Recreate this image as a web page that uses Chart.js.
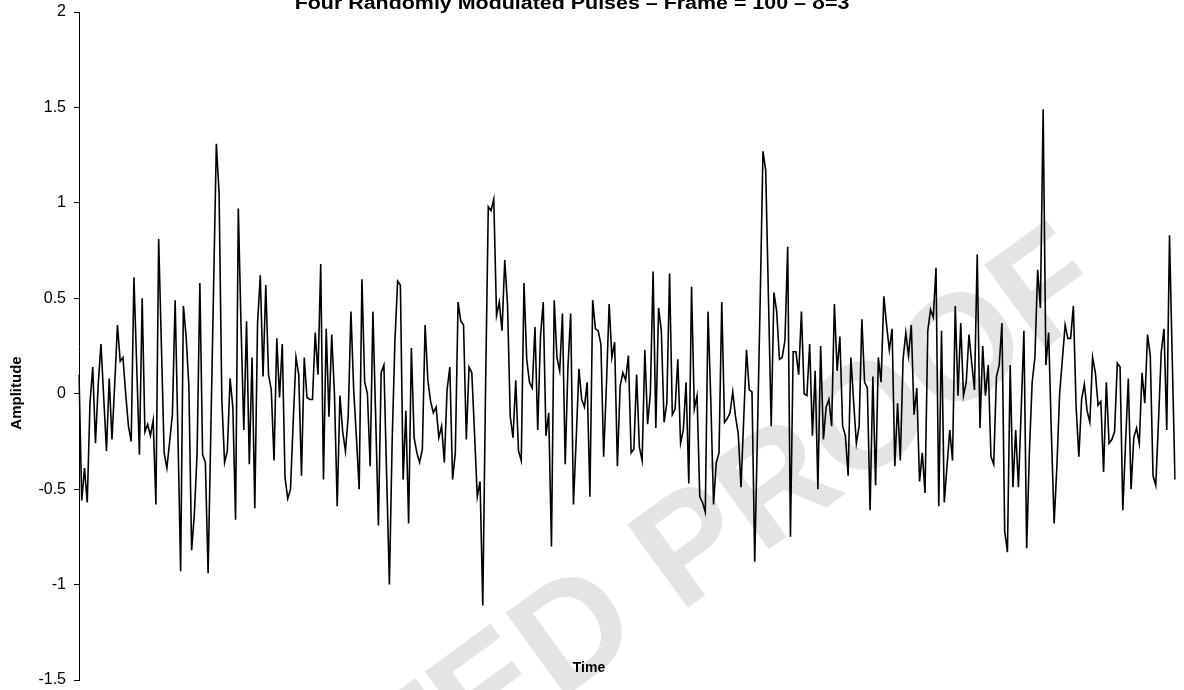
<!DOCTYPE html>
<html><head><meta charset="utf-8">
<script src="https://cdn.jsdelivr.net/npm/chart.js@4"></script>
<style>html,body{margin:0;padding:0;background:#fff;overflow:hidden}#wrap{position:relative;width:1184px;height:690px}</style>
</head><body><div id="wrap"><canvas id="c" width="1184" height="690"></canvas></div>
<script>
const titleText = 'Four Randomly Modulated Pulses – Frame = 100 – δ=3';
const xTitle = 'Time';
const yTitle = 'Amplitude';
const watermark = 'CORRECTED PROOF';
const yTicks = [-1.5, -1, -0.5, 0, 0.5, 1, 1.5, 2];

const pulse1 = [
 0.10,-0.56,-0.39,-0.57,-0.05,0.14,-0.26,0.05,0.26,-0.02,
 -0.30,0.08,-0.24,0.05,0.36,0.17,0.19,0.00,-0.17,-0.25,
 0.61,0.15,-0.32,0.50,-0.20,-0.16,-0.22,-0.14,-0.58,0.81,
 0.25,-0.31,-0.39,-0.25,-0.11,0.49,-0.20,-0.93,0.46,0.30,
 0.04,-0.82,-0.63,-0.31,0.58,-0.32,-0.36,-0.94,-0.19,0.56,
 1.31,1.05,-0.03,-0.36,-0.30,0.08,-0.07,-0.66,0.97,0.35,
 -0.19,0.38,-0.37,0.19,-0.60,0.37,0.62,0.09,0.57,0.10,
 0.02,-0.35,0.29,-0.02,0.26,-0.44,-0.55,-0.50,-0.14,0.19,
 0.10,-0.43,0.19,-0.02,-0.03,-0.03,0.32,0.10,0.68,-0.45,
 0.34,-0.12,0.31,0.00,-0.59,-0.01,-0.20,-0.30,-0.12,0.43
];
const pulse2 = [
 0.02,-0.23,-0.50,0.60,0.06,0.00,-0.38,0.43,-0.12,-0.69,
 0.11,0.15,-0.43,-1.00,-0.25,0.27,0.59,0.57,-0.45,-0.09,
 -0.68,0.24,-0.23,-0.31,-0.36,-0.29,0.36,0.07,-0.04,-0.10,
 -0.07,-0.23,-0.17,-0.36,0.02,0.14,-0.45,-0.31,0.48,0.38,
 0.36,-0.24,0.14,0.11,-0.21,-0.54,-0.46,-1.11,0.02,0.98,
 0.96,1.02,0.41,0.48,0.33,0.70,0.47,-0.12,-0.23,0.07,
 -0.30,-0.35,0.58,0.18,0.06,0.03,0.35,-0.19,0.30,0.48,
 -0.22,-0.10,-0.80,0.49,0.19,0.12,0.42,-0.37,0.14,0.42,
 -0.58,-0.24,0.13,-0.03,-0.07,0.06,-0.54,0.49,0.34,0.33,
 0.26,-0.33,0.04,0.47,0.19,0.27,-0.38,0.04,0.11,0.07
];
const pulse3 = [
 0.20,-0.31,-0.29,0.10,-0.28,-0.35,0.23,-0.16,0.00,0.64,
 -0.18,0.45,0.33,-0.15,-0.05,0.63,-0.11,-0.08,0.18,-0.26,
 -0.19,0.06,-0.47,0.56,-0.08,-0.01,-0.54,-0.57,-0.62,0.43,
 -0.03,-0.58,-0.36,-0.31,0.48,-0.15,-0.13,-0.10,0.01,-0.12,
 -0.21,-0.49,-0.13,0.23,0.02,0.01,-0.88,-0.20,0.50,1.27,
 1.17,0.50,-0.17,0.53,0.43,0.18,0.19,0.28,0.77,-0.75,
 0.22,0.22,0.10,0.43,0.00,-0.01,0.26,-0.22,0.12,-0.50,
 0.25,-0.24,-0.07,-0.03,-0.17,0.47,0.12,0.30,-0.17,-0.22,
 -0.43,0.19,-0.04,-0.26,-0.17,0.39,0.06,0.03,-0.61,0.09,
 -0.48,0.19,0.06,0.51,0.36,0.23,0.34,-0.38,-0.05,-0.35
];
const pulse4 = [
 0.18,0.32,0.20,0.36,-0.11,0.03,-0.46,-0.31,-0.52,0.33,
 0.44,0.40,0.66,-0.59,0.33,-0.57,-0.38,-0.19,-0.35,0.46,
 -0.01,0.37,-0.01,0.06,0.31,0.16,0.02,0.73,-0.18,0.25,
 -0.01,0.15,-0.33,-0.37,0.09,0.15,0.37,-0.72,-0.83,0.15,
 -0.49,-0.19,-0.49,-0.09,0.33,-0.81,-0.30,0.06,0.19,0.65,
 0.45,1.49,0.15,0.32,-0.21,-0.68,-0.38,0.00,0.18,0.36,
 0.29,0.29,0.46,-0.07,-0.33,-0.03,0.05,-0.09,-0.15,0.19,
 0.11,-0.06,-0.04,-0.41,0.06,-0.26,-0.24,-0.20,0.16,0.14,
 -0.61,-0.26,0.08,-0.50,-0.23,-0.18,-0.26,0.11,-0.05,0.31,
 0.20,-0.43,-0.48,-0.14,0.22,0.34,-0.19,0.83,0.18,-0.45
];

const amplitude = pulse1.concat(pulse2, pulse3, pulse4);
const timeSteps = amplitude.map((_, i) => i + 1);

const FONT = '"Liberation Sans", Arial, sans-serif';

const textPlugin = {
  id: 'texts',
  beforeDatasetsDraw(chart) {
    const c = chart.ctx;
    c.save();
    c.fillStyle = '#e4e4e4';
    c.font = 'bold 150px ' + FONT;
    c.translate(470, 715);
    c.rotate(-36 * Math.PI / 180);
    c.textAlign = 'center';
    c.textBaseline = 'middle';
    c.fillText(watermark, 0, 0);
    c.restore();
  },
  afterDraw(chart) {
    const c = chart.ctx;
    c.save();
    c.fillStyle = '#000';
    c.font = 'bold 18px ' + FONT;
    c.textAlign = 'center';
    c.textBaseline = 'alphabetic';
    c.translate(572, 9);
    c.scale(1.19, 1);
    c.fillText(titleText, 0, 0);
    c.restore();

    c.save();
    c.fillStyle = '#000';
    c.font = 'bold 14px ' + FONT;
    c.textAlign = 'center';
    c.textBaseline = 'middle';
    c.fillText(xTitle, 589, 668);
    c.restore();

    c.save();
    c.fillStyle = '#000';
    c.font = 'bold 15px ' + FONT;
    c.textAlign = 'center';
    c.textBaseline = 'alphabetic';
    c.translate(21, 393);
    c.rotate(-Math.PI / 2);
    c.fillText(yTitle, 0, 0);
    c.restore();
  }
};

new Chart(document.getElementById('c').getContext('2d'), {
  type: 'line',
  data: {
    labels: timeSteps,
    datasets: [{
      data: amplitude,
      borderColor: '#000',
      borderWidth: 1.6,
      pointRadius: 0,
      tension: 0,
      fill: false
    }]
  },
  options: {
    responsive: false,
    animation: false,
    events: [],
    layout: { padding: { left: 0, right: 9, top: 12, bottom: 10 } },
    plugins: { legend: { display: false }, tooltip: { enabled: false }, title: { display: false } },
    scales: {
      x: { type: 'category', display: false, offset: false },
      y: {
        min: -1.5, max: 2,
        afterBuildTicks(s) { s.ticks = yTicks.map(v => ({ value: v })); },
        afterFit(s) { s.width = 79; s.paddingTop = 0; s.paddingBottom = 0; },
        ticks: { color: '#000', font: { family: FONT, size: 16 }, padding: 8, callback: v => String(v) },
        grid: { display: true, drawOnChartArea: false, drawTicks: true, tickLength: 5, color: '#000', lineWidth: 1 },
        border: { display: true, color: '#000', width: 1 }
      }
    }
  },
  plugins: [textPlugin]
});
</script>
</body></html>
